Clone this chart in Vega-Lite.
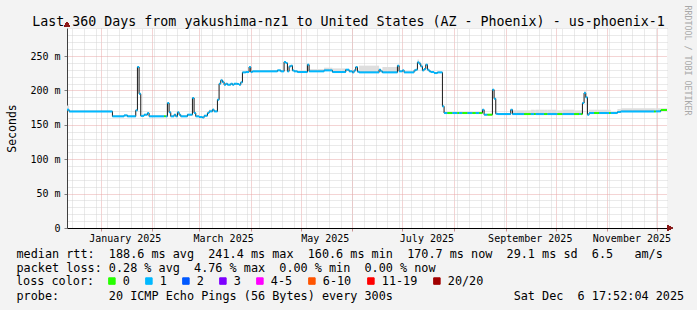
{
  "$schema": "https://vega.github.io/schema/vega-lite/v6.json",
  "width": 600,
  "height": 200,
  "autosize": {"type": "none"},
  "padding": {"left": 67, "top": 28, "right": 30, "bottom": 82},
  "background": "#f3f3f3",
  "config": {"view": {"fill": "#ffffff", "stroke": null}, "font": "DejaVu Sans Mono"},
  "title": {
    "text": "Last 360 Days from yakushima-nz1 to United States (AZ - Phoenix) - us-phoenix-1",
    "font": "DejaVu Sans Mono", "fontSize": 13.3, "fontWeight": "normal", "color": "#000000",
    "anchor": "middle", "frame": "group", "dx": -18.5, "baseline": "alphabetic", "offset": -34
  },
  "data": {"values": [
    {"t":"2024-12-11","t2":"2024-12-13","v":172,"loss":"1","hi":178},
    {"t":"2024-12-13","t2":"2025-01-08","v":169.5,"loss":"1"},
    {"t":"2025-01-08","t2":"2025-01-15","v":162.3,"loss":"1"},
    {"t":"2025-01-15","t2":"2025-01-17","v":163.7,"loss":"1"},
    {"t":"2025-01-17","t2":"2025-01-22","v":162.3,"loss":"1"},
    {"t":"2025-01-22","t2":"2025-01-23","v":171,"loss":"1"},
    {"t":"2025-01-23","t2":"2025-01-24","v":234,"loss":"1"},
    {"t":"2025-01-24","t2":"2025-01-25","v":195,"loss":"1"},
    {"t":"2025-01-25","t2":"2025-01-27","v":163,"loss":"1"},
    {"t":"2025-01-27","t2":"2025-01-29","v":164.7,"loss":"1"},
    {"t":"2025-01-29","t2":"2025-01-30","v":167,"loss":"1"},
    {"t":"2025-01-30","t2":"2025-02-08","v":162.3,"loss":"1"},
    {"t":"2025-02-08","t2":"2025-02-09","v":162.3,"loss":"0"},
    {"t":"2025-02-09","t2":"2025-02-10","v":162.3,"loss":"1"},
    {"t":"2025-02-10","t2":"2025-02-11","v":181.6,"loss":"1"},
    {"t":"2025-02-11","t2":"2025-02-12","v":168.1,"loss":"1"},
    {"t":"2025-02-12","t2":"2025-02-14","v":162.3,"loss":"1"},
    {"t":"2025-02-14","t2":"2025-02-15","v":164.7,"loss":"1"},
    {"t":"2025-02-15","t2":"2025-02-16","v":162.3,"loss":"1"},
    {"t":"2025-02-16","t2":"2025-02-17","v":168.1,"loss":"1"},
    {"t":"2025-02-17","t2":"2025-02-18","v":164.7,"loss":"1"},
    {"t":"2025-02-18","t2":"2025-02-22","v":162.3,"loss":"1"},
    {"t":"2025-02-22","t2":"2025-02-25","v":164.7,"loss":"1"},
    {"t":"2025-02-25","t2":"2025-02-26","v":188.9,"loss":"1"},
    {"t":"2025-02-26","t2":"2025-02-27","v":167.1,"loss":"1"},
    {"t":"2025-02-27","t2":"2025-03-01","v":162.3,"loss":"1"},
    {"t":"2025-03-01","t2":"2025-03-03","v":161.3,"loss":"1"},
    {"t":"2025-03-03","t2":"2025-03-04","v":160.6,"loss":"1"},
    {"t":"2025-03-04","t2":"2025-03-06","v":163.2,"loss":"1"},
    {"t":"2025-03-06","t2":"2025-03-07","v":167.1,"loss":"1"},
    {"t":"2025-03-07","t2":"2025-03-09","v":169.5,"loss":"1","hi":172},
    {"t":"2025-03-09","t2":"2025-03-10","v":171.9,"loss":"1","hi":174},
    {"t":"2025-03-10","t2":"2025-03-12","v":169.5,"loss":"1"},
    {"t":"2025-03-12","t2":"2025-03-13","v":186.5,"loss":"1"},
    {"t":"2025-03-13","t2":"2025-03-14","v":209.7,"loss":"1"},
    {"t":"2025-03-14","t2":"2025-03-15","v":214.6,"loss":"1","hi":217},
    {"t":"2025-03-15","t2":"2025-03-16","v":212,"loss":"1","hi":215},
    {"t":"2025-03-16","t2":"2025-03-17","v":208.3,"loss":"1"},
    {"t":"2025-03-17","t2":"2025-03-18","v":209.7,"loss":"1"},
    {"t":"2025-03-18","t2":"2025-03-20","v":208.3,"loss":"1"},
    {"t":"2025-03-20","t2":"2025-03-21","v":209.7,"loss":"1"},
    {"t":"2025-03-21","t2":"2025-03-22","v":208.3,"loss":"1"},
    {"t":"2025-03-22","t2":"2025-03-24","v":209.7,"loss":"1"},
    {"t":"2025-03-24","t2":"2025-03-25","v":209.3,"loss":"1"},
    {"t":"2025-03-25","t2":"2025-03-26","v":208.3,"loss":"1"},
    {"t":"2025-03-26","t2":"2025-03-27","v":211.7,"loss":"1"},
    {"t":"2025-03-27","t2":"2025-03-29","v":226.2,"loss":"1"},
    {"t":"2025-03-29","t2":"2025-03-31","v":226.7,"loss":"1"},
    {"t":"2025-03-31","t2":"2025-04-01","v":234,"loss":"1"},
    {"t":"2025-04-01","t2":"2025-04-02","v":226.7,"loss":"1"},
    {"t":"2025-04-02","t2":"2025-04-17","v":227.7,"loss":"1"},
    {"t":"2025-04-17","t2":"2025-04-19","v":229.1,"loss":"1"},
    {"t":"2025-04-19","t2":"2025-04-21","v":227.7,"loss":"1"},
    {"t":"2025-04-21","t2":"2025-04-22","v":241.4,"loss":"1"},
    {"t":"2025-04-22","t2":"2025-04-23","v":239.8,"loss":"1"},
    {"t":"2025-04-23","t2":"2025-04-24","v":227.7,"loss":"1"},
    {"t":"2025-04-24","t2":"2025-04-25","v":234.9,"loss":"1"},
    {"t":"2025-04-25","t2":"2025-04-26","v":235.9,"loss":"1"},
    {"t":"2025-04-26","t2":"2025-04-27","v":229,"loss":"1"},
    {"t":"2025-04-27","t2":"2025-04-29","v":227.7,"loss":"1"},
    {"t":"2025-04-29","t2":"2025-05-05","v":226.7,"loss":"1"},
    {"t":"2025-05-05","t2":"2025-05-06","v":237.4,"loss":"1"},
    {"t":"2025-05-06","t2":"2025-05-15","v":227.7,"loss":"1","hi":231},
    {"t":"2025-05-15","t2":"2025-05-20","v":229.1,"loss":"1","hi":233},
    {"t":"2025-05-20","t2":"2025-05-28","v":226.7,"loss":"1","hi":232},
    {"t":"2025-05-28","t2":"2025-05-30","v":230.1,"loss":"1"},
    {"t":"2025-05-30","t2":"2025-06-01","v":227.7,"loss":"1"},
    {"t":"2025-06-01","t2":"2025-06-02","v":226.2,"loss":"1"},
    {"t":"2025-06-02","t2":"2025-06-03","v":229.1,"loss":"1"},
    {"t":"2025-06-03","t2":"2025-06-04","v":234,"loss":"1"},
    {"t":"2025-06-04","t2":"2025-06-05","v":227.2,"loss":"1"},
    {"t":"2025-06-05","t2":"2025-06-17","v":226.2,"loss":"1","hi":236},
    {"t":"2025-06-17","t2":"2025-06-18","v":230.1,"loss":"1"},
    {"t":"2025-06-18","t2":"2025-06-19","v":227.7,"loss":"1"},
    {"t":"2025-06-19","t2":"2025-06-28","v":226.2,"loss":"1","hi":234},
    {"t":"2025-06-28","t2":"2025-06-29","v":235.9,"loss":"1"},
    {"t":"2025-06-29","t2":"2025-07-01","v":227.7,"loss":"1"},
    {"t":"2025-07-01","t2":"2025-07-02","v":229.1,"loss":"1"},
    {"t":"2025-07-02","t2":"2025-07-08","v":226.2,"loss":"1"},
    {"t":"2025-07-08","t2":"2025-07-09","v":229.1,"loss":"1"},
    {"t":"2025-07-09","t2":"2025-07-10","v":230.1,"loss":"1"},
    {"t":"2025-07-10","t2":"2025-07-11","v":240.7,"loss":"1","hi":245},
    {"t":"2025-07-11","t2":"2025-07-12","v":238.8,"loss":"1","hi":242},
    {"t":"2025-07-12","t2":"2025-07-13","v":234.9,"loss":"1"},
    {"t":"2025-07-13","t2":"2025-07-14","v":229.1,"loss":"1"},
    {"t":"2025-07-14","t2":"2025-07-15","v":231.1,"loss":"1"},
    {"t":"2025-07-15","t2":"2025-07-16","v":237.4,"loss":"1"},
    {"t":"2025-07-16","t2":"2025-07-17","v":230.1,"loss":"1"},
    {"t":"2025-07-17","t2":"2025-07-18","v":227.7,"loss":"1"},
    {"t":"2025-07-18","t2":"2025-07-20","v":226.7,"loss":"1"},
    {"t":"2025-07-20","t2":"2025-07-22","v":225.2,"loss":"1"},
    {"t":"2025-07-22","t2":"2025-07-25","v":226.2,"loss":"1"},
    {"t":"2025-07-25","t2":"2025-07-26","v":176.8,"loss":"1"},
    {"t":"2025-07-26","t2":"2025-07-28","v":167.1,"loss":"1"},
    {"t":"2025-07-28","t2":"2025-07-31","v":167.1,"loss":"0"},
    {"t":"2025-07-31","t2":"2025-08-03","v":167.1,"loss":"1"},
    {"t":"2025-08-03","t2":"2025-08-04","v":167.1,"loss":"0"},
    {"t":"2025-08-04","t2":"2025-08-06","v":167.1,"loss":"1"},
    {"t":"2025-08-06","t2":"2025-08-09","v":167.1,"loss":"0"},
    {"t":"2025-08-09","t2":"2025-08-12","v":167.1,"loss":"1"},
    {"t":"2025-08-12","t2":"2025-08-14","v":167.1,"loss":"0"},
    {"t":"2025-08-14","t2":"2025-08-16","v":167.1,"loss":"1"},
    {"t":"2025-08-16","t2":"2025-08-18","v":167.1,"loss":"0"},
    {"t":"2025-08-18","t2":"2025-08-19","v":171.9,"loss":"1"},
    {"t":"2025-08-19","t2":"2025-08-21","v":164.7,"loss":"1"},
    {"t":"2025-08-21","t2":"2025-08-24","v":164.7,"loss":"0"},
    {"t":"2025-08-24","t2":"2025-08-25","v":201,"loss":"1"},
    {"t":"2025-08-25","t2":"2025-08-26","v":188,"loss":"1"},
    {"t":"2025-08-26","t2":"2025-08-27","v":166.1,"loss":"1"},
    {"t":"2025-08-27","t2":"2025-09-04","v":165.6,"loss":"1"},
    {"t":"2025-09-04","t2":"2025-09-05","v":171.9,"loss":"1"},
    {"t":"2025-09-05","t2":"2025-09-12","v":165.6,"loss":"1","hi":171},
    {"t":"2025-09-12","t2":"2025-09-16","v":165.6,"loss":"0","hi":171},
    {"t":"2025-09-16","t2":"2025-09-18","v":165.6,"loss":"1","hi":172},
    {"t":"2025-09-18","t2":"2025-09-19","v":165.6,"loss":"0","hi":172},
    {"t":"2025-09-19","t2":"2025-09-24","v":165.6,"loss":"1","hi":172},
    {"t":"2025-09-24","t2":"2025-09-26","v":165.6,"loss":"0","hi":172},
    {"t":"2025-09-26","t2":"2025-10-02","v":165.6,"loss":"1","hi":172},
    {"t":"2025-10-02","t2":"2025-10-05","v":165.6,"loss":"0","hi":171},
    {"t":"2025-10-05","t2":"2025-10-12","v":165.6,"loss":"1","hi":172},
    {"t":"2025-10-12","t2":"2025-10-15","v":165.6,"loss":"0","hi":171},
    {"t":"2025-10-15","t2":"2025-10-16","v":165.6,"loss":"1","hi":171},
    {"t":"2025-10-16","t2":"2025-10-17","v":165.6,"loss":"0","hi":171},
    {"t":"2025-10-17","t2":"2025-10-18","v":181.7,"loss":"1"},
    {"t":"2025-10-18","t2":"2025-10-19","v":196.2,"loss":"1","hi":200},
    {"t":"2025-10-19","t2":"2025-10-20","v":189.9,"loss":"1"},
    {"t":"2025-10-20","t2":"2025-10-21","v":164.7,"loss":"1"},
    {"t":"2025-10-21","t2":"2025-10-24","v":167.1,"loss":"1","hi":172},
    {"t":"2025-10-24","t2":"2025-10-27","v":167.1,"loss":"0","hi":172},
    {"t":"2025-10-27","t2":"2025-11-02","v":167.1,"loss":"1","hi":172},
    {"t":"2025-11-02","t2":"2025-11-03","v":167.1,"loss":"0","hi":172},
    {"t":"2025-11-03","t2":"2025-11-07","v":167.1,"loss":"1"},
    {"t":"2025-11-07","t2":"2025-11-09","v":168.6,"loss":"1","hi":173},
    {"t":"2025-11-09","t2":"2025-11-29","v":169.5,"loss":"1","hi":174},
    {"t":"2025-11-29","t2":"2025-11-30","v":169.5,"loss":"0","hi":174},
    {"t":"2025-11-30","t2":"2025-12-03","v":169.5,"loss":"1","hi":174},
    {"t":"2025-12-03","t2":"2025-12-07","v":171.5,"loss":"0","hi":174}
  ]},
  "layer": [
    {
      "transform": [{"filter": {"field": "hi", "valid": true}}],
      "mark": {"type": "rect", "color": "#dedede", "clip": true},
      "encoding": {
        "x": {
          "field": "t", "type": "temporal",
          "scale": {"type": "utc", "nice": false, "domain": [{"year": 2024, "month": 12, "date": 11, "hours": 17, "minutes": 52, "utc": true}, {"year": 2025, "month": 12, "date": 6, "hours": 17, "minutes": 52, "utc": true}]},
          "axis": {"orient": "top", "tickCount": {"interval": "week", "step": 1}, "grid": true, "gridColor": "#d4d4d4", "gridDash": [1, 1], "labels": false, "ticks": false, "domain": false,
            "title": "probe:\u00a0\u00a0\u00a0\u00a0\u00a0\u00a0\u00a020 ICMP Echo Pings (56 Bytes) every 300s\u00a0\u00a0\u00a0\u00a0\u00a0\u00a0\u00a0\u00a0\u00a0\u00a0\u00a0\u00a0\u00a0\u00a0\u00a0\u00a0\u00a0Sat Dec\u00a0\u00a06 17:52:04 2025",
            "titleX": -51, "titleY": 271.5, "titleAlign": "left", "titleAnchor": "start", "titleBaseline": "alphabetic",
            "titleFont": "DejaVu Sans Mono", "titleFontSize": 11.8, "titleFontWeight": "normal", "titleColor": "#000000"}
        },
        "x2": {"field": "t2"},
        "y": {
          "field": "v", "type": "quantitative",
          "scale": {"domain": [0, 290.7], "nice": false, "zero": true},
          "axis": {"orient": "right", "values": [10, 20, 30, 40, 60, 70, 80, 90, 110, 120, 130, 140, 160, 170, 180, 190, 210, 220, 230, 240, 260, 270, 280, 290], "grid": true, "gridColor": "#d4d4d4", "gridDash": [1, 1], "labels": false, "ticks": false, "domain": false,
            "title": "RRDTOOL / TOBI OETIKER", "titleAngle": 90, "titleX": 19.5, "titleY": -23, "titleAlign": "left", "titleBaseline": "middle", "titleFont": "DejaVu Sans Mono", "titleFontSize": 8.3, "titleFontWeight": "normal", "titleColor": "#a8a8a8"}
        },
        "y2": {"field": "hi"}
      }
    },
    {
      "mark": {"type": "line", "interpolate": "step-after", "color": "#1a1a1a", "strokeWidth": 1, "clip": true},
      "encoding": {
        "x": {
          "field": "t", "type": "temporal",
          "axis": {
            "orient": "bottom",
            "values": [{"year": 2025, "month": 1, "date": 1, "utc": true}, {"year": 2025, "month": 2, "date": 1, "utc": true}, {"year": 2025, "month": 3, "date": 1, "utc": true}, {"year": 2025, "month": 4, "date": 1, "utc": true}, {"year": 2025, "month": 5, "date": 1, "utc": true}, {"year": 2025, "month": 6, "date": 1, "utc": true}, {"year": 2025, "month": 7, "date": 1, "utc": true}, {"year": 2025, "month": 8, "date": 1, "utc": true}, {"year": 2025, "month": 9, "date": 1, "utc": true}, {"year": 2025, "month": 10, "date": 1, "utc": true}, {"year": 2025, "month": 11, "date": 1, "utc": true}, {"year": 2025, "month": 12, "date": 1, "utc": true}],
            "grid": true, "gridColor": "#e8a8a8", "gridDash": [1, 1],
            "domain": true, "domainColor": "#000000", "domainWidth": 1,
            "ticks": true, "tickSize": 3, "tickColor": "#c89090",
            "labelExpr": "utcmonth(datum.value) % 2 == 0 ? utcFormat(datum.value, '%B %Y') : ''",
            "labelOffset": 24, "labelPadding": 2, "labelFont": "DejaVu Sans Mono", "labelFontSize": 10, "labelColor": "#000000",
            "labelAlign": "center", "labelFlush": false, "labelOverlap": false, "labelBound": false,
            "title": ["median rtt:\u00a0\u00a0188.6 ms avg\u00a0\u00a0241.4 ms max\u00a0\u00a0160.6 ms min\u00a0\u00a0170.7 ms now\u00a0\u00a029.1 ms sd\u00a0\u00a06.5\u00a0\u00a0\u00a0am/s", "packet loss: 0.28 % avg\u00a0\u00a04.76 % max\u00a0\u00a00.00 % min\u00a0\u00a00.00 % now"],
            "titleX": -51, "titleY": 29.5, "titleAlign": "left", "titleAnchor": "start", "titleBaseline": "alphabetic",
            "titleFont": "DejaVu Sans Mono", "titleFontSize": 11.8, "titleFontWeight": "normal", "titleColor": "#000000", "titleLineHeight": 14
          }
        },
        "y": {
          "field": "v", "type": "quantitative",
          "axis": {
            "orient": "left", "values": [0, 50, 100, 150, 200, 250],
            "grid": true, "gridColor": "#e8a8a8", "gridDash": [1, 1],
            "domain": true, "domainColor": "#404040", "ticks": true, "tickSize": 3, "tickColor": "#808080",
            "labelExpr": "datum.value == 0 ? '0' : datum.value + ' m'",
            "labelFont": "DejaVu Sans Mono", "labelFontSize": 10, "labelColor": "#000000", "labelPadding": 4,
            "title": "Seconds", "titleFont": "DejaVu Sans Mono", "titleFontSize": 11.5, "titleFontWeight": "normal", "titleColor": "#000000", "titlePadding": 12
          }
        }
      }
    },
    {
      "mark": {"type": "rule", "strokeWidth": 2, "strokeCap": "butt", "clip": true},
      "encoding": {
        "x": {"field": "t", "type": "temporal", "axis": null},
        "x2": {"field": "t2"},
        "y": {"field": "v", "type": "quantitative", "axis": null},
        "color": {
          "field": "loss", "type": "nominal",
          "scale": {"domain": ["0", "1", "2", "3", "4-5", "6-10", "11-19", "20/20"], "range": ["#26ff00", "#00b8ff", "#0059ff", "#7e00ff", "#ff00ff", "#ff5500", "#ff0000", "#a10000"]},
          "legend": {
            "orient": "none", "legendX": -51, "legendY": 247, "direction": "horizontal", "padding": 0,
            "title": "loss color:", "titleOrient": "left", "titleFont": "DejaVu Sans Mono", "titleFontSize": 11.8, "titleFontWeight": "normal", "titleColor": "#000000", "titlePadding": 11,
            "labelFont": "DejaVu Sans Mono", "labelFontSize": 11.8, "labelColor": "#000000", "labelOffset": 5, "columnPadding": 13,
            "symbolType": "square", "symbolSize": 42, "symbolStrokeWidth": 1, "symbolStrokeColor": "#000000",
            "encode": {"symbols": {"update": {"fill": {"scale": "color", "field": "value"}, "stroke": {"value": "#000000"}, "strokeWidth": {"value": 1}, "opacity": {"value": 1}, "fillOpacity": {"value": 1}, "strokeOpacity": {"value": 1}}}}
          }
        }
      }
    },
    {
      "mark": {"type": "point", "shape": "triangle-right", "filled": true, "color": "#8b1a1a", "size": 28, "opacity": 1, "clip": false},
      "encoding": {
        "x": {"datum": {"year": 2025, "month": 12, "date": 8, "hours": 12, "utc": true}, "type": "temporal", "axis": null},
        "y": {"datum": 0, "type": "quantitative", "axis": null}
      }
    },
    {
      "mark": {"type": "point", "shape": "triangle-up", "filled": true, "color": "#8b1a1a", "size": 28, "opacity": 1, "clip": false},
      "encoding": {
        "x": {"datum": {"year": 2024, "month": 12, "date": 11, "hours": 17, "minutes": 52, "utc": true}, "type": "temporal", "axis": null},
        "y": {"datum": 296, "type": "quantitative", "axis": null}
      }
    }
  ],
  "resolve": {"axis": {"x": "independent", "y": "independent"}}
}
